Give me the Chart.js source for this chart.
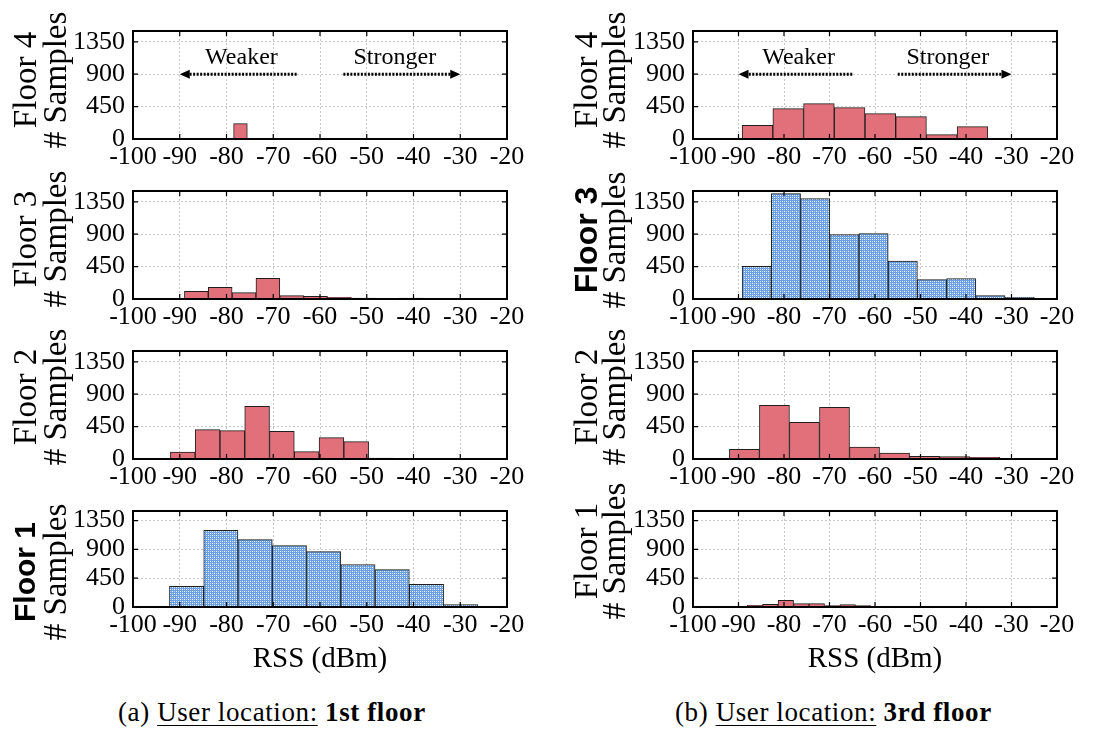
<!DOCTYPE html>
<html>
<head>
<meta charset="utf-8">
<script src="https://cdn.jsdelivr.net/npm/chart.js@4.4.0/dist/chart.umd.min.js"></script>
<style>
body { margin: 0; background: #fff; }
#page { position: relative; width: 1115px; height: 732px; overflow: hidden; background: #fff; }
.panel { position: absolute; }
.caption { position: absolute; top: 697px; font-family: 'Liberation Serif', serif; font-size: 27px; line-height: 30px; letter-spacing: 0.6px; white-space: nowrap; color: #000; }
.caption u { text-decoration-thickness: 1px; text-underline-offset: 4px; }
</style>
</head>
<body>
<div id="page">
  <div class="caption" style="left:118px">(a) <u>User location:</u> <b>1st floor</b></div>
  <div class="caption" style="left:675px">(b) <u>User location:</u> <b>3rd floor</b></div>
</div>
<script>
// axis ticks
const xTicks = [-100, -90, -80, -70, -60, -50, -40, -30, -20];
const yTicks = [0, 450, 900, 1350];
const yMax = 1500;
const rowFloors = ['Floor 4', 'Floor 3', 'Floor 2', 'Floor 1'];

// (a) user on the 1st floor : [first bin edge, bin width] in dBm, counts per bin
const leftF4Bins = [-90.2, 2.93];
const leftF4Counts = [3, 5, 4, 10, 213, 6, 4, 3, 2, 3];
const leftF3Bins = [-89.0, 5.1];
const leftF3Counts = [106, 162, 88, 287, 46, 37, 23, 14, 5, 14];
const leftF2Bins = [-92.0, 5.3];
const leftF2Counts = [97, 407, 394, 731, 384, 102, 296, 241, 14, 9];
const leftF1Bins = [-92.2, 7.33];
const leftF1Counts = [323, 1198, 1052, 958, 865, 661, 583, 354, 36];

// (b) user on the 3rd floor
const rightF4Bins = [-89.2, 6.75];
const rightF4Counts = [190, 421, 491, 435, 352, 310, 60, 171, 9, 8];
const rightF3Bins = [-89.2, 6.42];
const rightF3Counts = [454, 1463, 1394, 894, 907, 528, 269, 282, 46, 23];
const rightF2Bins = [-92.0, 6.6];
const rightF2Counts = [134, 745, 509, 718, 167, 83, 37, 32, 23, 9];
const rightF1Bins = [-88.1, 3.4];
const rightF1Counts = [26, 42, 104, 52, 52, 21, 36, 21, 10, 5];

// weaker / stronger notes on the top row (data coords)
const noteTexts = ['Weaker', 'Stronger'];
const noteTextX = [-76.8, -44];
const noteArrowFrom = [-65, -55];
const noteArrowTo = [-90, -30];
const noteTextY = 1130;
const noteArrowY = 900;

// page layout
const colLeft = [133, 693], colRight = [507, 1057];
const canvasX = [0, 548], canvasW = [545, 567];
const rowTop = [31, 191, 351, 511], rowBottom = [139, 299, 459, 607];
const floorX = [27, 588], samplesX = [57, 616];
const PAD_T = 40, PAD_B = 80, Y_W = 70;

const serif = "Liberation Serif";
const red = '#e2707a';

Chart.defaults.font.family = serif;
Chart.defaults.color = '#000';

// light checkered blue for the user's own floor
function blueHatch() {
    const c = document.createElement('canvas');
    c.width = 4; c.height = 4;
    const g = c.getContext('2d');
    g.fillStyle = '#6a9fe2'; g.fillRect(0, 0, 4, 4);
    g.fillStyle = '#ffffff'; g.fillRect(0, 0, 1, 1); g.fillRect(2, 2, 1, 1);
    g.fillStyle = '#c9dcf5'; g.fillRect(2, 0, 1, 1); g.fillRect(0, 2, 1, 1);
    return g.createPattern(c, 'repeat');
}
const blue = blueHatch();

const panels = [
    {col: 0, row: 0, bins: leftF4Bins, counts: leftF4Counts, own: false, shift: -5},
    {col: 0, row: 1, bins: leftF3Bins, counts: leftF3Counts, own: false, shift: -6},
    {col: 0, row: 2, bins: leftF2Bins, counts: leftF2Counts, own: false, shift: -8},
    {col: 0, row: 3, bins: leftF1Bins, counts: leftF1Counts, own: true, shift: 13},
    {col: 1, row: 0, bins: rightF4Bins, counts: rightF4Counts, own: false, shift: -5},
    {col: 1, row: 1, bins: rightF3Bins, counts: rightF3Counts, own: true, shift: -5},
    {col: 1, row: 2, bins: rightF2Bins, counts: rightF2Counts, own: false, shift: -8},
    {col: 1, row: 3, bins: rightF1Bins, counts: rightF1Counts, own: false, shift: -8}
];

// rotated "Floor n" + "# Samples" labels
const sideLabels = {
    id: 'sideLabels',
    afterDraw(chart, args, o) {
        const {ctx, chartArea} = chart;
        const cy = (chartArea.top + chartArea.bottom) / 2 + o.shift;
        ctx.save();
        ctx.fillStyle = '#000';
        ctx.textAlign = 'center';
        ctx.textBaseline = 'middle';
        ctx.save();
        ctx.translate(o.floorX, cy);
        ctx.rotate(-Math.PI / 2);
        ctx.font = o.bold ? "bold " + o.boldSize + "px 'Liberation Sans', Arial, sans-serif" : "33px " + serif;
        ctx.fillText(o.floor, 0, 0);
        ctx.restore();
        ctx.translate(o.samplesX, cy);
        ctx.rotate(-Math.PI / 2);
        ctx.font = "33px " + serif;
        ctx.fillText('# Samples', 0, 0);
        ctx.restore();
    }
};

// box round the plot + inward tick marks
const frame = {
    id: 'frame',
    afterDraw(chart) {
        const {ctx, chartArea: a, scales: {x, y}} = chart;
        ctx.save();
        ctx.strokeStyle = '#000';
        ctx.lineWidth = 1.2;
        ctx.beginPath();
        xTicks.forEach(v => {
            const px = x.getPixelForValue(v);
            ctx.moveTo(px, a.bottom); ctx.lineTo(px, a.bottom - 5);
            ctx.moveTo(px, a.top); ctx.lineTo(px, a.top + 5);
        });
        yTicks.forEach(v => {
            const py = y.getPixelForValue(v);
            ctx.moveTo(a.left, py); ctx.lineTo(a.left + 5, py);
            ctx.moveTo(a.right, py); ctx.lineTo(a.right - 5, py);
        });
        ctx.stroke();
        ctx.lineWidth = 2;
        ctx.strokeRect(a.left, a.top, a.right - a.left, a.bottom - a.top);
        ctx.restore();
    }
};

// dotted arrows with Weaker / Stronger
const notes = {
    id: 'notes',
    afterDatasetsDraw(chart, args, o) {
        if (!o.show) return;
        const {ctx, scales: {x, y}} = chart;
        ctx.save();
        ctx.font = "24px " + serif;
        ctx.fillStyle = '#000';
        ctx.strokeStyle = '#000';
        ctx.textAlign = 'center';
        ctx.textBaseline = 'middle';
        noteTexts.forEach((t, i) => {
            ctx.fillText(t, x.getPixelForValue(noteTextX[i]), y.getPixelForValue(noteTextY));
            const x0 = x.getPixelForValue(noteArrowFrom[i]);
            const x1 = x.getPixelForValue(noteArrowTo[i]);
            const py = y.getPixelForValue(noteArrowY);
            const dir = Math.sign(x1 - x0);
            ctx.setLineDash([2, 1.5]);
            ctx.lineWidth = 3;
            ctx.beginPath(); ctx.moveTo(x0, py); ctx.lineTo(x1 - dir * 8, py); ctx.stroke();
            ctx.setLineDash([]);
            ctx.beginPath();
            ctx.moveTo(x1, py);
            ctx.lineTo(x1 - dir * 10, py - 4.5);
            ctx.lineTo(x1 - dir * 10, py + 4.5);
            ctx.closePath();
            ctx.fill();
        });
        ctx.restore();
    }
};

const page = document.getElementById('page');

panels.forEach(p => {
    const cx = canvasX[p.col], cw = canvasW[p.col];
    const plotH = rowBottom[p.row] - rowTop[p.row];
    const ch = PAD_T + plotH + PAD_B;
    const xH = p.row === 3 ? 70 : 40;

    const cv = document.createElement('canvas');
    cv.className = 'panel';
    cv.width = cw; cv.height = ch;
    cv.style.left = cx + 'px';
    cv.style.top = (rowTop[p.row] - PAD_T) + 'px';
    cv.style.width = cw + 'px';
    cv.style.height = ch + 'px';
    page.appendChild(cv);

    const points = p.counts.map((c, i) => ({x: p.bins[0] + (i + 0.5) * p.bins[1], y: c}));

    new Chart(cv, {
        type: 'bar',
        data: {
            datasets: [{
                data: points,
                backgroundColor: p.own ? blue : red,
                borderColor: '#1e1e1e',
                borderWidth: 1,
                barPercentage: 1,
                categoryPercentage: 1,
                grouped: false
            }]
        },
        options: {
            responsive: false,
            animation: false,
            events: [],
            layout: {
                padding: {
                    left: colLeft[p.col] - cx - Y_W,
                    right: cx + cw - colRight[p.col],
                    top: PAD_T,
                    bottom: PAD_B - xH
                }
            },
            plugins: {
                legend: {display: false},
                tooltip: {enabled: false},
                sideLabels: {
                    floor: rowFloors[p.row],
                    bold: p.own,
                    boldSize: p.col === 0 ? 30 : 32,
                    floorX: floorX[p.col] - cx,
                    samplesX: samplesX[p.col] - cx,
                    shift: p.shift
                },
                notes: {show: p.row === 0}
            },
            scales: {
                x: {
                    type: 'linear',
                    min: -100,
                    max: -20,
                    offset: false,
                    afterBuildTicks: s => { s.ticks = xTicks.map(v => ({value: v})); },
                    afterFit: s => { s.height = xH; },
                    grid: {color: '#c8c8c8', lineWidth: 1, drawTicks: false, offset: false},
                    border: {display: false, dash: [2, 2]},
                    ticks: {
                        color: '#000',
                        font: {family: serif, size: 26},
                        padding: 3,
                        maxRotation: 0,
                        autoSkip: false,
                        callback: v => String(v)
                    },
                    title: {
                        display: p.row === 3,
                        text: 'RSS (dBm)',
                        color: '#000',
                        font: {family: serif, size: 29},
                        padding: 0
                    }
                },
                y: {
                    min: 0,
                    max: yMax,
                    afterBuildTicks: s => { s.ticks = yTicks.map(v => ({value: v})); },
                    afterFit: s => { s.width = Y_W; },
                    grid: {color: '#c8c8c8', lineWidth: 1, drawTicks: false},
                    border: {display: false, dash: [2, 2]},
                    ticks: {
                        color: '#000',
                        font: {family: serif, size: 26},
                        padding: 8,
                        autoSkip: false,
                        callback: v => String(v)
                    }
                }
            }
        },
        plugins: [sideLabels, frame, notes]
    });
});
</script>
</body>
</html>
